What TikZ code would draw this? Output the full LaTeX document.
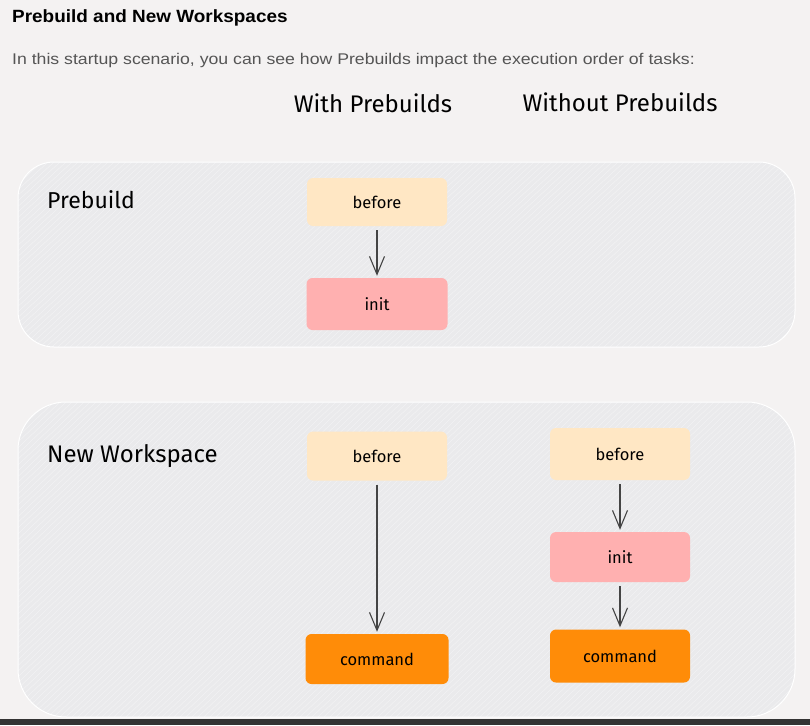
\documentclass[tikz,border=0pt]{standalone}
\usepackage{fontspec}
\setmainfont{Liberation Sans}
\newfontfamily\titlefont[FakeStretch=1.07]{Liberation Sans}
\newfontfamily\subfont[FakeStretch=1.14]{Liberation Sans}
\newfontfamily\handfont{Fira Sans}
\usetikzlibrary{arrows.meta}
\definecolor{bgc}{HTML}{F4F2F2}
\definecolor{panelc}{HTML}{EAEAEC}
\definecolor{beforec}{HTML}{FFE7C4}
\definecolor{initc}{HTML}{FFB0B0}
\definecolor{cmdc}{HTML}{FF8C08}
\definecolor{subc}{HTML}{555555}
\definecolor{arrc}{HTML}{444444}
\definecolor{barc}{HTML}{333333}
\tikzset{
  taskbox/.style={rounded corners=6pt, minimum width=140pt, minimum height=50pt, inner sep=0pt, font=\handfont\fontsize{16.5}{18}\selectfont, text=black},
  panelbox/.style={fill=panelc, draw=white, line width=1pt},
  flow/.style={draw=arrc, line width=1.1pt, -{Straight Barb[length=18pt,width=15pt,line width=1.1pt]}, shorten <=4pt, shorten >=2pt},
  handlabel/.style={font=\handfont\fontsize{24}{26}\selectfont, text=black, inner sep=0pt},
  hatch/.style={draw=white, opacity=0.5, line width=0.35pt}
}
\begin{document}
\begin{tikzpicture}[x=1pt,y=-1pt]
\useasboundingbox (0,0) rectangle (810,725);
\fill[bgc] (0,0) rectangle (810,725);
\fill[barc] (0,719) rectangle (810,725);
% panels
\path[panelbox, rounded corners=36pt] (18,162) rectangle (795,347);
\begin{scope}
  \clip[rounded corners=36pt] (18,162) rectangle (795,347);
  \foreach \i in {0,6,...,980} { \draw[hatch] (\i-200,347) -- (\i,162); }
\end{scope}
\path[panelbox, rounded corners=48pt] (18,402) rectangle (795,717);
\begin{scope}
  \clip[rounded corners=48pt] (18,402) rectangle (795,717);
  \foreach \i in {0,6,...,1150} { \draw[hatch] (\i-330,717) -- (\i,402); }
\end{scope}
% texts
\node[anchor=base west, inner sep=0pt, font=\titlefont\bfseries\fontsize{17.7}{20}\selectfont] (title) at (12,23) {Prebuild and New Workspaces};
\node[anchor=base west, inner sep=0pt, font=\subfont\fontsize{15.5}{18}\selectfont, text=subc] (sub) at (12,64) {In this startup scenario, you can see how Prebuilds impact the execution order of tasks:};
\node[handlabel] (hwith) at (373,103) {With Prebuilds};
\node[handlabel] (hwithout) at (620,102) {Without Prebuilds};
\node[handlabel, anchor=west, font=\handfont\fontsize{23}{25}\selectfont] (lpre) at (47,200) {Prebuild};
\node[handlabel, anchor=west] (lnew) at (47,456) {New Workspace};
% tasks
\node[taskbox, fill=beforec, minimum height=48pt] (pb) at (377,202) {before};
\node[taskbox, fill=initc, minimum height=52pt, minimum width=141pt] (pi) at (377,304) {init};
\node[taskbox, fill=beforec, minimum height=49pt] (wb) at (377,456) {before};
\node[taskbox, fill=cmdc, minimum width=143pt] (wc) at (377,659) {command};
\node[taskbox, fill=beforec, minimum height=52pt] (ob) at (620,454) {before};
\node[taskbox, fill=initc] (oi) at (620,557) {init};
\node[taskbox, fill=cmdc, minimum height=53pt] (oc) at (620,656) {command};
% connectors
\draw[flow] (pb) -- (pi);
\draw[flow] (wb) -- (wc);
\draw[flow] (ob) -- (oi);
\draw[flow] (oi) -- (oc);
\end{tikzpicture}
\end{document}
